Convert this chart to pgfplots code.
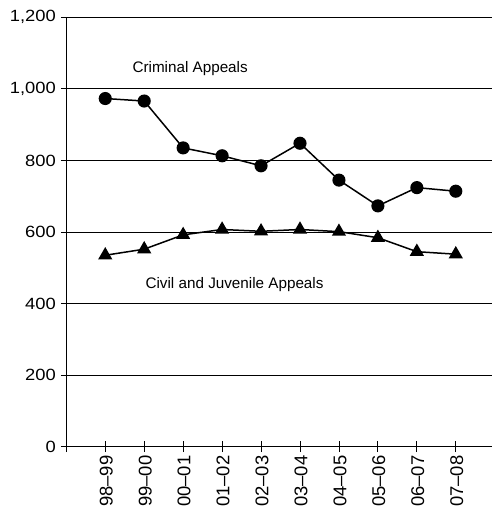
\documentclass[border=0pt]{standalone}
\usepackage{fontspec}
\setmainfont{Liberation Sans}
\newfontfamily\widefont{Liberation Sans}[FakeStretch=1.13]
\usepackage{pgfplots}
\pgfplotsset{compat=1.18}
\usetikzlibrary{calc}
\begin{document}
\begin{tikzpicture}
\begin{axis}[
  scale only axis,
  width=425.7bp, height=429.4bp,
  xmin=-1, xmax=9.93,
  ymin=0, ymax=1200,
  axis lines*=left,
  axis line style={line width=1.3bp},
  ytick={0,200,...,1200},
  xtick={-1,0,...,9},
  xticklabels={,98--99,99--00,00--01,01--02,02--03,03--04,04--05,05--06,06--07,07--08},
  x tick label style={rotate=90, anchor=east, font=\fontsize{18.5}{20}\selectfont, yshift=-1bp},
  y tick label style={font=\widefont\fontsize{16.3}{20}\selectfont, xshift=-1.5bp},
  /pgf/number format/1000 sep={,},
  /pgf/number format/assume math mode=true,
  ymajorgrids,
  grid style={black, line width=0.8bp},
  tick style={black, line width=0.8bp},
  major tick length=11bp,
  tick align=center,
  clip=false,
]
\addplot[black, line width=1.5bp, mark=*, mark size=5.8bp] coordinates {
 (0,973) (1,966) (2,835) (3,813) (4,785) (5,848) (6,745) (7,673) (8,724) (9,714)
};
\addplot[black, line width=1.5bp, mark=triangle*, mark size=6.7bp] coordinates {
 (0,535) (1,552) (2,592) (3,607) (4,602) (5,607) (6,601) (7,584) (8,545) (9,538)
};
\node[font=\fontsize{15.3}{18}\selectfont] at (axis cs:2.18,1057) {Criminal Appeals};
\node[font=\fontsize{15.3}{18}\selectfont] at (axis cs:3.32,453) {Civil and Juvenile Appeals};
\end{axis}
\pgfresetboundingbox
\path[use as bounding box] ($(current axis.south west)+(-66.3bp,-65.3bp)$) rectangle ($(current axis.north east)+(0bp,17.3bp)$);
\end{tikzpicture}
\end{document}
